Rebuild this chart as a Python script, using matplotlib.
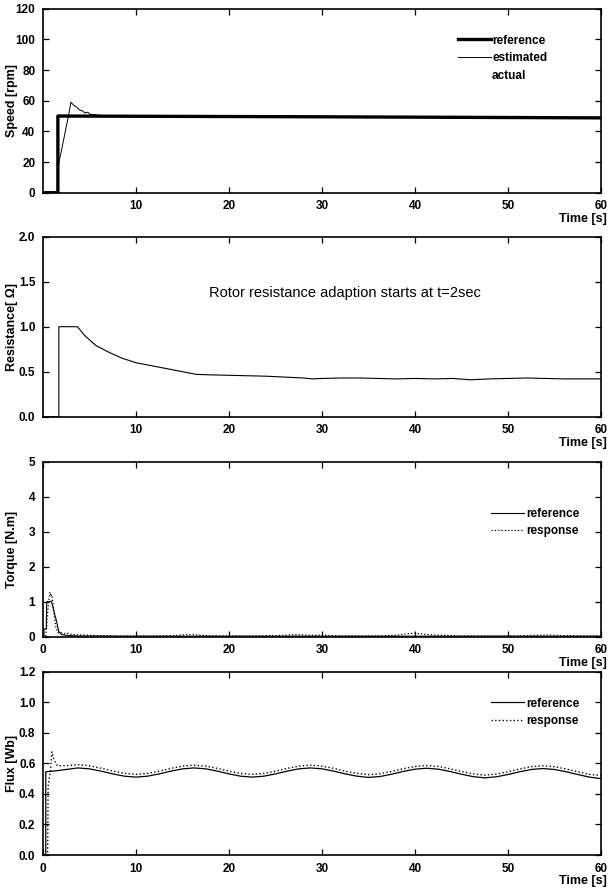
import matplotlib
matplotlib.use("Agg")
import matplotlib.pyplot as plt
from matplotlib.lines import Line2D

plt.rcParams["font.family"] = ["Liberation Sans", "DejaVu Sans"]

# --- speed [rpm] ---
t_speed_ref = [0, 1.6, 1.6, 30, 60]
speed_ref = [0, 0, 50, 49.5, 48.8]
t_speed_est = [0, 1.6, 1.65, 2.0, 2.4, 2.8, 3.0, 3.3, 3.6, 3.9, 4.2, 4.5, 4.8,
               5.1, 5.5, 6.0, 6.5, 7, 8, 9, 10, 11, 12, 13, 14, 15, 16, 17,
               18, 19, 20, 21, 22, 23, 24, 25, 26, 27, 28, 29, 30, 31, 32, 33,
               34, 35, 36, 37, 38, 39, 40, 41, 42, 43, 44, 45, 46, 47, 48, 49,
               50, 51, 52, 53, 54, 55, 56, 57, 58, 59, 60]
speed_est = [0, 0, 18, 28, 40, 52, 59, 57, 56, 54, 53.5, 52, 52.5,
             51, 51, 50.5, 50.3, 50, 49.8, 49.5, 49.8, 49.5, 49.6, 49.3, 49.7, 49.5, 49.4, 49.6,
             49.2, 49.5, 49.3, 49.6, 49.4, 49.2, 49.5, 49.3, 49.6, 49.1, 49.4, 49.2, 49.5, 49.3, 49.0, 49.4,
             49.2, 48.9, 49.3, 49.1, 49.4, 49.0, 49.2, 48.9, 49.3, 49.0, 48.8, 49.1, 48.9, 49.2, 48.8, 49.0,
             48.7, 49.0, 48.8, 48.6, 48.9, 48.7, 48.5, 48.8, 48.6, 48.7, 48.5]

# --- rotor resistance [ohm] ---
t_res = [0, 1.7, 1.7, 3.7, 4.5, 5.7, 7.2, 8.5, 10, 11.5, 13, 14.5, 16.5, 18,
         20, 22, 24, 26, 28, 29, 30, 32, 34, 36, 38, 40, 42, 44, 46, 48, 50,
         52, 54, 56, 58, 60]
resistance = [0, 0, 1.0, 1.0, 0.9, 0.79, 0.71, 0.65, 0.6, 0.57, 0.54, 0.51, 0.47, 0.465,
              0.46, 0.455, 0.45, 0.44, 0.43, 0.42, 0.425, 0.43, 0.43, 0.425, 0.42, 0.425, 0.42, 0.425, 0.41, 0.42, 0.425,
              0.43, 0.425, 0.42, 0.42, 0.42]

# --- torque [N.m] ---
t_tq_ref = [0, 0.1, 0.1, 0.35, 0.4, 0.7, 0.9, 1.1, 1.4, 1.7, 2.0, 2.5, 3, 4, 5,
            6, 8, 10, 15, 20, 25, 30, 35, 40, 45, 50, 55, 60]
tq_ref = [0, 0, 0.22, 0.22, 1.0, 1.0, 1.02, 0.8, 0.5, 0.15, 0.06, 0.04, 0.03, 0.02, 0.02,
          0.02, 0.015, 0.015, 0.015, 0.015, 0.015, 0.015, 0.015, 0.015, 0.015, 0.015, 0.015, 0.015]
t_tq_resp = [0, 0.3, 0.45, 0.6, 0.75, 0.85, 0.95, 1.1, 1.25, 1.4, 1.6, 1.8, 2.1,
             2.4, 2.7, 3.0, 3.4, 3.8, 4.3, 5, 6, 7, 8, 9, 10, 11, 12, 13, 14,
             15, 16, 17, 18, 19, 20, 21, 22, 23, 24, 25, 26, 27, 28, 29, 30,
             31, 32, 33, 34, 35, 36, 37, 38, 39, 40, 41, 42, 43, 44, 45, 46,
             47, 48, 49, 50, 51, 52, 53, 54, 55, 56, 57, 58, 59, 60]
tq_resp = [0, 0, 0.5, 1.0, 1.28, 1.15, 1.2, 0.9, 0.5, 0.25, 0.12, 0.1, 0.12,
           0.08, 0.1, 0.07, 0.06, 0.05, 0.05, 0.04, 0.03, 0.03, 0.02, 0.02, 0.02, 0.02, 0.02, 0.03, 0.03,
           0.05, 0.06, 0.04, 0.03, 0.02, 0.02, 0.02, 0.02, 0.02, 0.03, 0.03, 0.04, 0.06, 0.05, 0.04, 0.05,
           0.03, 0.02, 0.02, 0.02, 0.02, 0.02, 0.03, 0.04, 0.08, 0.1, 0.07, 0.05, 0.04, 0.03, 0.02, 0.02,
           0.02, 0.02, 0.02, 0.02, 0.02, 0.03, 0.04, 0.05, 0.04, 0.03, 0.03, 0.02, 0.02, 0.02]

# --- flux [Wb] ---
t_flux = [0, 0.3, 0.3, 1.25, 2.5, 3.75, 5, 6.25, 7.5, 8.75, 10, 11.25, 12.5,
          13.75, 15, 16.25, 17.5, 18.75, 20, 21.25, 22.5, 23.75, 25, 26.25,
          27.5, 28.75, 30, 31.25, 32.5, 33.75, 35, 36.25, 37.5, 38.75, 40,
          41.25, 42.5, 43.75, 45, 46.25, 47.5, 48.75, 50, 51.25, 52.5, 53.75,
          55, 56.25, 57.5, 58.75, 60]
flux_ref = [0, 0, 0.545, 0.55, 0.56, 0.57, 0.564, 0.549, 0.531, 0.516, 0.51, 0.516, 0.531,
            0.549, 0.564, 0.57, 0.564, 0.549, 0.531, 0.516, 0.51, 0.516, 0.531, 0.549,
            0.564, 0.57, 0.564, 0.549, 0.531, 0.516, 0.508, 0.514, 0.529, 0.547, 0.562,
            0.568, 0.562, 0.547, 0.529, 0.513, 0.505, 0.512, 0.527, 0.545, 0.56, 0.566,
            0.56, 0.545, 0.527, 0.51, 0.50]
t_flux_resp = [0, 0.5, 0.55, 0.8, 0.95, 1.2, 1.55, 2.5, 3.75, 5, 6.25, 7.5, 8.75,
               10, 11.25, 12.5, 13.75, 15, 16.25, 17.5, 18.75, 20, 21.25, 22.5,
               23.75, 25, 26.25, 27.5, 28.75, 30, 31.25, 32.5, 33.75, 35, 36.25,
               37.5, 38.75, 40, 41.25, 42.5, 43.75, 45, 46.25, 47.5, 48.75, 50,
               51.25, 52.5, 53.75, 55, 56.25, 57.5, 58.75, 60]
flux_resp = [0, 0, 0.45, 0.55, 0.675, 0.62, 0.585, 0.585, 0.592, 0.584, 0.568, 0.55, 0.535,
             0.528, 0.534, 0.549, 0.567, 0.582, 0.588, 0.582, 0.567, 0.549, 0.534, 0.528,
             0.534, 0.549, 0.567, 0.582, 0.588, 0.582, 0.567, 0.549, 0.534, 0.526, 0.532,
             0.547, 0.565, 0.58, 0.586, 0.58, 0.565, 0.547, 0.531, 0.523, 0.53, 0.545,
             0.563, 0.578, 0.584, 0.578, 0.563, 0.545, 0.528, 0.52]

TICK_FONT = dict(fontsize=8.5, fontweight="bold")

fig = plt.figure(figsize=(6.08, 8.94), dpi=100)
W, H = 608, 894
left, width = 43 / W, 558 / W


def make_axes(top_px, bottom_px):
    return fig.add_axes([left, (H - bottom_px) / H, width, (bottom_px - top_px) / H])


def style(ax, ylabel, ylim, yticks, ylabels, xticks, height_px):
    ax.set_xlim(0, 60)
    ax.set_ylim(*ylim)
    ax.set_xticks(xticks)
    ax.set_xticklabels([str(x) for x in xticks], **TICK_FONT)
    ax.set_yticks(yticks)
    ax.set_yticklabels(ylabels, **TICK_FONT)
    ax.tick_params(direction="in", top=True, right=True, length=4, width=0.9, pad=5.5)
    for sp in ax.spines.values():
        sp.set_linewidth(1.2)
    ax.set_ylabel(ylabel, fontsize=9, fontweight="bold")
    ax.yaxis.set_label_coords(-0.044, 0.5)
    ax.text(1.011, -26 / height_px, "Time [s]", transform=ax.transAxes,
            ha="right", va="center", fontsize=9, fontweight="bold")


# speed
ax1 = make_axes(8.7, 192.7)
l_ref, = ax1.plot(t_speed_ref, speed_ref, color="black", lw=2.4)
l_est, = ax1.plot(t_speed_est, speed_est, color="black", lw=0.7)
style(ax1, "Speed [rpm]", (0, 120), range(0, 121, 20),
      [str(v) for v in range(0, 121, 20)], [10, 20, 30, 40, 50, 60], 184)
blank = Line2D([], [], color="none")
ax1.legend([l_ref, l_est, blank], ["reference", "estimated", "actual"],
           loc="upper left", bbox_to_anchor=(0.735, 0.885), frameon=False,
           handlelength=2.8, handletextpad=0.1, labelspacing=0.5,
           borderaxespad=0, prop=dict(size=8.5, weight="bold"))

# resistance
ax2 = make_axes(236.7, 416.7)
ax2.plot(t_res, resistance, color="black", lw=0.8)
style(ax2, "Resistance[ \u03a9]", (0, 2.0), [0, 0.5, 1.0, 1.5, 2.0],
      ["0.0", "0.5", "1.0", "1.5", "2.0"], [10, 20, 30, 40, 50, 60], 180)
ax2.text(17.8, 1.37, "Rotor resistance adaption starts at t=2sec",
         fontsize=10.5, va="center", ha="left")

# torque
ax3 = make_axes(461.7, 636.7)
t_ref_line, = ax3.plot(t_tq_ref, tq_ref, color="black", lw=0.8)
t_resp_line, = ax3.plot(t_tq_resp, tq_resp, color="black", lw=0.9, ls=":")
style(ax3, "Torque [N.m]", (0, 5), range(0, 6),
      [str(v) for v in range(0, 6)], [0, 10, 20, 30, 40, 50, 60], 175)
ax3.legend([t_ref_line, t_resp_line], ["reference", "response"],
           loc="upper left", bbox_to_anchor=(0.795, 0.76), frameon=False,
           handlelength=2.8, handletextpad=0.15, labelspacing=0.4,
           borderaxespad=0, prop=dict(size=8.5, weight="bold"))

# flux
ax4 = make_axes(671.7, 855)
f_ref_line, = ax4.plot(t_flux, flux_ref, color="black", lw=0.9)
f_resp_line, = ax4.plot(t_flux_resp, flux_resp, color="black", lw=1.0, ls=":")
style(ax4, "Flux [Wb]", (0, 1.2), [0, 0.2, 0.4, 0.6, 0.8, 1.0, 1.2],
      ["0.0", "0.2", "0.4", "0.6", "0.8", "1.0", "1.2"],
      [0, 10, 20, 30, 40, 50, 60], 183.3)
ax4.legend([f_ref_line, f_resp_line], ["reference", "response"],
           loc="upper left", bbox_to_anchor=(0.795, 0.885), frameon=False,
           handlelength=2.8, handletextpad=0.15, labelspacing=0.5,
           borderaxespad=0, prop=dict(size=8.5, weight="bold"))

fig.savefig("out.png", dpi=100)
